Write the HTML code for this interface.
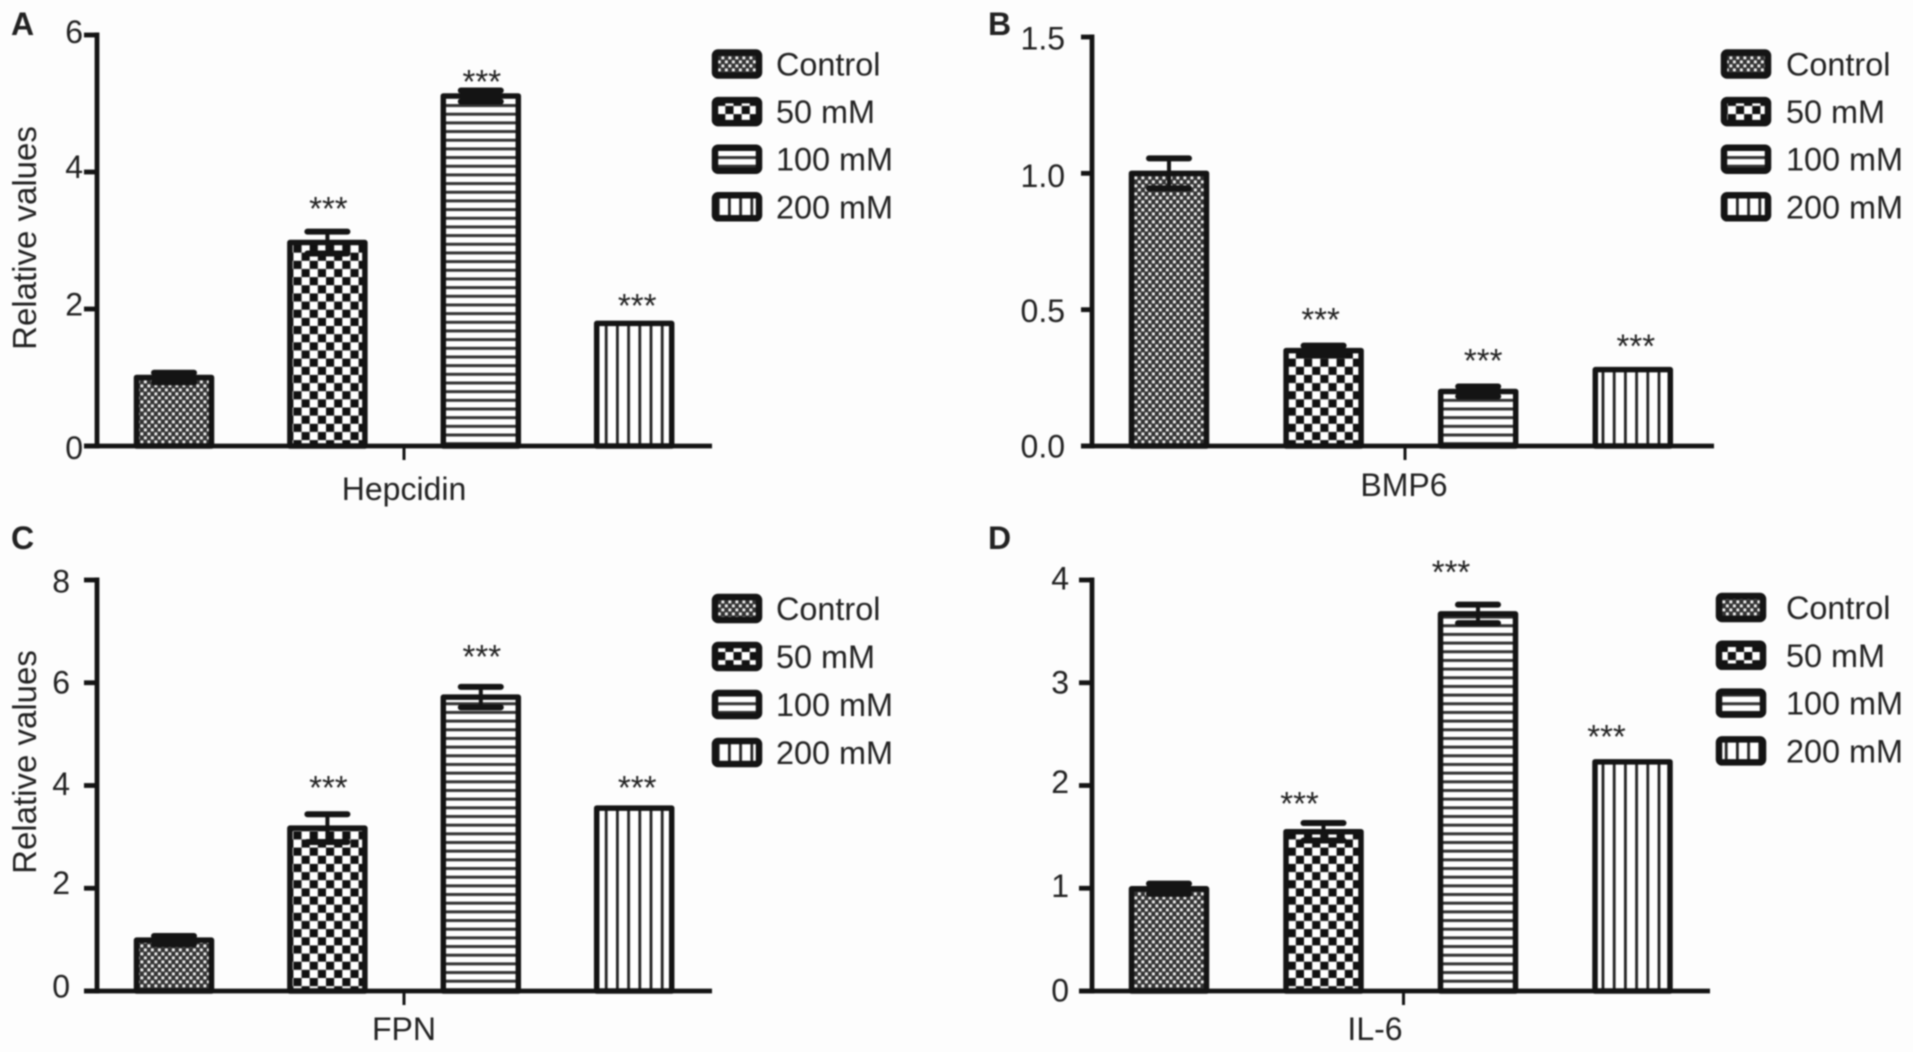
<!DOCTYPE html>
<html lang="en">
<head>
<meta charset="utf-8">
<title>Relative values by dose</title>
<style>
html,body{margin:0;padding:0;background:#fdfdfd;width:1913px;height:1052px;overflow:hidden}
svg{display:block;filter:blur(.7px)}
text{font-family:"Liberation Sans",Arial,sans-serif;fill:#222}
</style>
</head>
<body>
<svg id="figure" xmlns="http://www.w3.org/2000/svg" width="1913" height="1052" viewBox="0 0 1913 1052">
<defs>
<pattern id="pat-control" patternUnits="userSpaceOnUse" width="7" height="8">
<rect width="7" height="8" fill="#333"/>
<rect x="0.4" y="0.4" width="2.9" height="3" fill="#eee"/>
<rect x="3.9" y="4.4" width="2.9" height="3" fill="#eee"/>
</pattern>
<pattern id="pat-50" patternUnits="userSpaceOnUse" width="16.3" height="16.3">
<rect width="16.3" height="16.3" fill="#fff"/>
<rect x="0" y="0" width="8.15" height="8.15" fill="#111"/>
<rect x="8.15" y="8.15" width="8.15" height="8.15" fill="#111"/>
</pattern>
<pattern id="pat-100" patternUnits="userSpaceOnUse" width="10" height="8.67">
<rect width="10" height="8.67" fill="#fff"/>
<rect y="0" width="10" height="3" fill="#333"/>
</pattern>
<pattern id="pat-200" patternUnits="userSpaceOnUse" width="11.2" height="10">
<rect width="11.2" height="10" fill="#fff"/>
<rect x="0" width="2.8" height="10" fill="#222"/>
</pattern>
</defs>
</svg>
<script>
const categories = ['Control', '50 mM', '100 mM', '200 mM'];

const hepcidinValues = [1.0, 2.97, 5.11, 1.79];
const hepcidinErrors = [0.07, 0.16, 0.08, 0];
const hepcidinStars = [null, 3.55, 5.4, 2.13];
const hepcidinTicks = [0, 2, 4, 6];
const hepcidinTickLabels = ['0', '2', '4', '6'];

const bmp6Values = [1.0, 0.35, 0.2, 0.28];
const bmp6Errors = [0.055, 0.018, 0.018, 0];
const bmp6Stars = [null, 0.484, 0.334, 0.387];
const bmp6Ticks = [0, 0.5, 1, 1.5];
const bmp6TickLabels = ['0.0', '0.5', '1.0', '1.5'];

const fpnValues = [0.99, 3.17, 5.72, 3.56];
const fpnErrors = [0.08, 0.27, 0.2, 0];
const fpnStars = [null, 4.07, 6.62, 4.07];
const fpnTicks = [0, 2, 4, 6, 8];
const fpnTickLabels = ['0', '2', '4', '6', '8'];

const il6Values = [0.995, 1.55, 3.67, 2.23];
const il6Errors = [0.05, 0.085, 0.09, 0];
const il6Stars = [null, 1.88, 4.13, 2.53];
const il6Ticks = [0, 1, 2, 3, 4];
const il6TickLabels = ['0', '1', '2', '3', '4'];

const patterns = ['pat-control', 'pat-50', 'pat-100', 'pat-200'];

const panels = [
  {id:'a', letter:'A', lx:11, ly:35, name:'Hepcidin', vals:hepcidinValues, errs:hepcidinErrors, stars:hepcidinStars, ticks:hepcidinTicks, labels:hepcidinTickLabels,
   max:6, axisX:97, top:35, bottom:446, right:712, tickLen:13, first:174, step:153.4, tickRight:83, nudges:[1.5,-5,-5.5,-3.5], starShift:[0,1,1,3], xTick:404, nameX:404, nameY:500, titleY:238, legX:712, legTop:64, legStep:47.6, legText:776},
  {id:'b', letter:'B', lx:988, ly:35, name:'BMP6', vals:bmp6Values, errs:bmp6Errors, stars:bmp6Stars, ticks:bmp6Ticks, labels:bmp6TickLabels,
   max:1.5, axisX:1092, top:37, bottom:446, right:1714, tickLen:11, first:1169, step:154.6, tickRight:1065, nudges:[0,1,2,1], starShift:[0,-3,5,3], xTick:1405, nameX:1404, nameY:496, titleY:null, legX:1721, legTop:64, legStep:47.6, legText:1786},
  {id:'c', letter:'C', lx:11, ly:549, name:'FPN', vals:fpnValues, errs:fpnErrors, stars:fpnStars, ticks:fpnTicks, labels:fpnTickLabels,
   max:8, axisX:97, top:580, bottom:991, right:712, tickLen:13, first:174, step:153.4, tickRight:70, nudges:[-5,-6,-2,-1,1], starShift:[0,1,1,3], xTick:404, nameX:404, nameY:1040, titleY:762, legX:712, legTop:608.5, legStep:48, legText:776},
  {id:'d', letter:'D', lx:988, ly:549, name:'IL-6', vals:il6Values, errs:il6Errors, stars:il6Stars, ticks:il6Ticks, labels:il6TickLabels,
   max:4, axisX:1092, top:580, bottom:991, right:1710, tickLen:13, first:1169, step:154.5, tickRight:1069, nudges:[-1,-3,-4,-1,-2], starShift:[0,-24,-27,-26], xTick:1403.5, nameX:1375, nameY:1040, titleY:null, legX:1716, legTop:607.5, legStep:47.8, legText:1786}
];

const NS = 'http://www.w3.org/2000/svg';
const svg = document.getElementById('figure');

function mk(tag, parent, props, content) {
  const node = document.createElementNS(NS, tag);
  for (const k in props) node.setAttribute(k, props[k]);
  if (content !== undefined) node.textContent = content;
  parent.appendChild(node);
  return node;
}

function yScale(p) {
  return function (v) { return p.bottom - (v / p.max) * (p.bottom - p.top); };
}

function xBand(p) {
  return function (i) { return p.first + i * p.step; };
}

const INK = '#141414';

panels.forEach(function (p) {
  const y = yScale(p);
  const x = xBand(p);
  const g = mk('g', svg, {});
  
  

  const letter = mk('text', g, {x:p.lx, y:p.ly, 'font-size':32, 'font-weight':'bold'}, p.letter);
  
  

  // bars, error bars, significance marks
  p.vals.forEach(function (v, i) {
    const cx = x(i);
    const bar = mk('rect', g, {x:cx - 37.5, y:y(v), width:75, height:p.bottom - y(v), fill:'url(#' + patterns[i] + ')', stroke:INK, 'stroke-width':5.5, 'stroke-linejoin':'round'});
    
    

    const e = p.errs[i];
    if (e > 0) {
      const hi = y(v + e);
      const lo = y(v - e);
      const stem = mk('line', g, {x1:cx, x2:cx, y1:hi, y2:lo, stroke:INK, 'stroke-width':4});
      
      
      const capTop = mk('line', g, {x1:cx - 20, x2:cx + 20, y1:hi, y2:hi, stroke:INK, 'stroke-width':6, 'stroke-linecap':'round'});
      
      
      const capLow = mk('line', g, {x1:cx - 20, x2:cx + 20, y1:lo, y2:lo, stroke:INK, 'stroke-width':6, 'stroke-linecap':'round'});
      
      
    }

    if (p.stars[i] !== null) {
      const star = mk('text', g, {x:cx + p.starShift[i], y:y(p.stars[i]) + 17, 'font-size':33, 'text-anchor':'middle'}, '***');
      
      
    }
  });

  // axes
  const yAxis = mk('line', g, {x1:p.axisX, x2:p.axisX, y1:p.top - 2.5, y2:p.bottom + 2.5, stroke:INK, 'stroke-width':4.8});
  
  
  const xAxis = mk('line', g, {x1:p.axisX - p.tickLen, x2:p.right, y1:p.bottom, y2:p.bottom, stroke:INK, 'stroke-width':4.8});
  
  
  const xTick = mk('line', g, {x1:p.xTick, x2:p.xTick, y1:p.bottom, y2:p.bottom + 14, stroke:INK, 'stroke-width':3});
  
  

  p.ticks.forEach(function (t, i) {
    const tick = mk('line', g, {x1:p.axisX - p.tickLen, x2:p.axisX, y1:y(t), y2:y(t), stroke:INK, 'stroke-width':4.8});
    
    
    const lab = mk('text', g, {x:p.tickRight, y:y(t) + 11.5 + p.nudges[i], 'font-size':32, 'text-anchor':'end'}, p.labels[i]);
    
    
  });

  const xName = mk('text', g, {x:p.nameX, y:p.nameY, 'font-size':32, 'text-anchor':'middle'}, p.name);
  
  

  if (p.titleY !== null) {
    const title = mk('text', g, {x:0, y:0, 'font-size':33, 'text-anchor':'middle', transform:'translate(36 ' + p.titleY + ') rotate(-90)'}, 'Relative values');
    
    
  }

  // legend
  const leg = mk('g', g, {});
  
  
  categories.forEach(function (c, i) {
    const ry = p.legTop + i * p.legStep;
    const sw = mk('rect', leg, {x:p.legX + 3, y:ry - 11.5, width:44, height:23, rx:3, fill:'url(#' + patterns[i] + ')', stroke:INK, 'stroke-width':6.5});
    
    
    const tx = mk('text', leg, {x:p.legText, y:ry + 11.5, 'font-size':32.4}, c);
    
    
  });
});
</script>
</body>
</html>
